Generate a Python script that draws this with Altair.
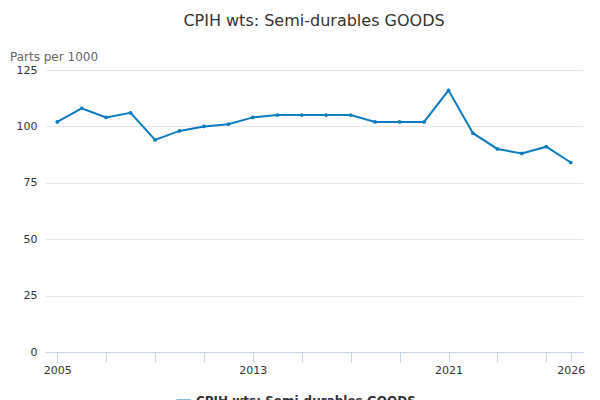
import altair as alt
import pandas as pd

years = list(range(2005, 2027))
values = [102, 108, 104, 106, 94, 98, 100, 101, 104, 105, 105,
          105, 105, 102, 102, 102, 116, 97, 90, 88, 91, 84]
series = "CPIH wts: Semi-durables GOODS"

df = pd.DataFrame({"year": years, "value": values, "series": series})
tick_years = [2005, 2007, 2009, 2011, 2013, 2015, 2017, 2019, 2021, 2023, 2025, 2026]
FONT = "DejaVu Sans"

chart = (
    alt.Chart(df)
    .mark_line(color="#0b7bc1", strokeWidth=2,
               point=alt.OverlayMarkDef(color="#0b7bc1", size=14, filled=True))
    .encode(
        x=alt.X("year:Q", title=None,
                scale=alt.Scale(domain=[2004.5, 2026.5], nice=False, zero=False),
                axis=alt.Axis(values=tick_years, grid=False, domainColor="#ccd6eb",
                              tickColor="#ccd6eb", tickSize=10,
                              labelExpr="indexof([2005,2013,2021,2026], datum.value) >= 0 ? datum.value : ''",
                              labelColor="#333", labelFontSize=11, labelFont=FONT)),
        y=alt.Y("value:Q", title=None,
                scale=alt.Scale(domain=[0, 125], nice=False),
                axis=alt.Axis(values=[0, 25, 50, 75, 100, 125], domain=False, ticks=False,
                              gridColor="#e6e6e6", labelColor="#333",
                              labelFontSize=11, labelFont=FONT, labelPadding=8)),
        color=alt.Color("series:N", scale=alt.Scale(range=["#0b7bc1"]),
                        legend=alt.Legend(title=None, orient="none", legendX=130, legendY=322,
                                          direction="horizontal", labelLimit=0,
                                          labelFontSize=12, labelFontWeight="bold",
                                          labelFont=FONT, labelColor="#333",
                                          symbolType="stroke", symbolStrokeWidth=2,
                                          symbolSize=200)),
    )
)

label = alt.Chart(pd.DataFrame({"t": ["Parts per 1000"]})).mark_text(
    align="left", baseline="bottom", font=FONT, fontSize=12, color="#666"
).encode(x=alt.value(-35), y=alt.value(-6), text="t:N")

source = alt.Chart(pd.DataFrame({"t": ["Source:"]})).mark_text(
    align="right", baseline="bottom", font=FONT, fontSize=12, color="#666"
).encode(x=alt.value(544), y=alt.value(352), text="t:N")

final = (
    alt.layer(chart, label, source)
    .properties(
        width=538, height=282,
        padding={"left": 2, "top": 5, "right": 0, "bottom": 0},
        title=alt.TitleParams(series, font=FONT, fontSize=16, fontWeight="normal",
                              color="#333", offset=22),
    )
    .configure_view(stroke=None)
)

final.save("out.html", embed_options={"renderer": "svg", "actions": False})
